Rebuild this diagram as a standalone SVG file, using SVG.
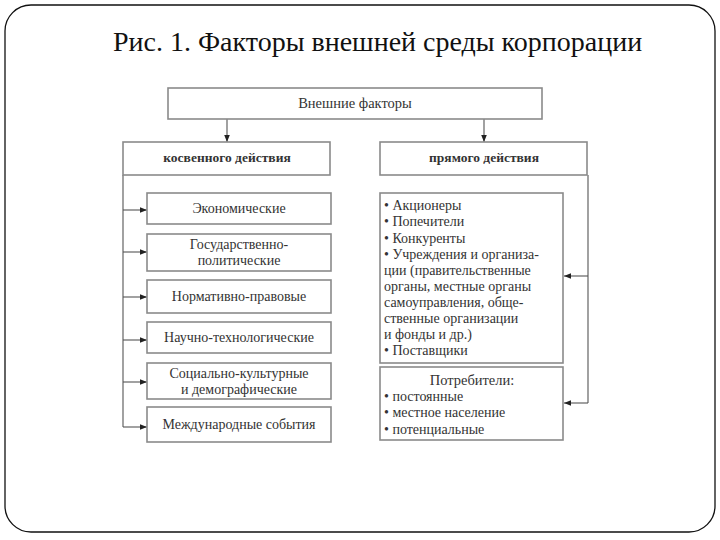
<svg xmlns="http://www.w3.org/2000/svg" width="720" height="540" viewBox="0 0 720 540">
<defs>
<marker id="ah" viewBox="0 0 10 10" refX="10" refY="5" markerWidth="7" markerHeight="7" orient="auto" markerUnits="userSpaceOnUse">
<path d="M0,1 L10,5 L0,9 Z" fill="#222"/>
</marker>
</defs>
<rect width="720" height="540" fill="#fff"/>
<rect x="5" y="5" width="710" height="527" rx="26" ry="26" fill="#fff" stroke="#111" stroke-width="1.3"/>
<text x="113" y="51" font-family="Liberation Serif" font-size="28" fill="#111">Рис. 1. Факторы внешней среды корпорации</text>

<g id="connectors" fill="none" stroke="#555" stroke-width="1.1">
<line x1="227" y1="119" x2="227" y2="142" marker-end="url(#ah)"/>
<line x1="484" y1="119" x2="484" y2="142" marker-end="url(#ah)"/>
<polyline points="123,175 123,427"/>
<line x1="123" y1="210" x2="147" y2="210" marker-end="url(#ah)"/>
<line x1="123" y1="252" x2="147" y2="252" marker-end="url(#ah)"/>
<line x1="123" y1="297" x2="147" y2="297" marker-end="url(#ah)"/>
<line x1="123" y1="340" x2="147" y2="340" marker-end="url(#ah)"/>
<line x1="123" y1="382" x2="147" y2="382" marker-end="url(#ah)"/>
<line x1="123" y1="427" x2="147" y2="427" marker-end="url(#ah)"/>
<polyline points="588,175 588,403"/>
<line x1="588" y1="276" x2="564" y2="276" marker-end="url(#ah)"/>
<line x1="588" y1="403" x2="564" y2="403" marker-end="url(#ah)"/>
</g>

<g id="nodes" font-family="Liberation Serif" font-size="14" fill="#333">
<g id="external">
<rect x="168" y="88" width="374" height="31" fill="#fff" stroke="#8a8a8a" stroke-width="1.6"/>
<text x="355" y="108" text-anchor="middle" font-size="14.5">Внешние факторы</text>
</g>
<g id="indirect">
<rect x="123" y="142" width="207" height="33" fill="#fff" stroke="#8a8a8a" stroke-width="1.6"/>
<text x="227" y="162" text-anchor="middle" font-weight="bold" font-size="13.5">косвенного действия</text>
</g>
<g id="direct">
<rect x="380" y="142" width="207" height="33" fill="#fff" stroke="#8a8a8a" stroke-width="1.6"/>
<text x="484" y="162" text-anchor="middle" font-weight="bold" font-size="13.5">прямого действия</text>
</g>

<g id="economic">
<rect x="147" y="193" width="184" height="31" fill="#fff" stroke="#8a8a8a" stroke-width="1.6"/>
<text x="239" y="213" text-anchor="middle">Экономические</text>
</g>
<g id="political">
<rect x="147" y="234" width="184" height="37" fill="#fff" stroke="#8a8a8a" stroke-width="1.6"/>
<text x="239" y="249" text-anchor="middle">Государственно-</text>
<text x="239" y="265" text-anchor="middle">политические</text>
</g>
<g id="legal">
<rect x="147" y="280" width="184" height="33" fill="#fff" stroke="#8a8a8a" stroke-width="1.6"/>
<text x="239" y="301" text-anchor="middle">Нормативно-правовые</text>
</g>
<g id="tech">
<rect x="147" y="322" width="184" height="31" fill="#fff" stroke="#8a8a8a" stroke-width="1.6"/>
<text x="239" y="342" text-anchor="middle">Научно-технологические</text>
</g>
<g id="social">
<rect x="147" y="363" width="184" height="36" fill="#fff" stroke="#8a8a8a" stroke-width="1.6"/>
<text x="239" y="378" text-anchor="middle">Социально-культурные</text>
<text x="239" y="394" text-anchor="middle">и демографические</text>
</g>
<g id="international">
<rect x="147" y="407" width="184" height="35" fill="#fff" stroke="#8a8a8a" stroke-width="1.6"/>
<text x="239" y="429" text-anchor="middle">Международные события</text>
</g>

<g id="stakeholders">
<rect x="380" y="193" width="183" height="170" fill="#fff" stroke="#8a8a8a" stroke-width="1.6"/>
<text x="384" y="210">•  Акционеры</text>
<text x="384" y="226">•  Попечители</text>
<text x="384" y="243">•  Конкуренты</text>
<text x="384" y="259">•  Учреждения и организа-</text>
<text x="384" y="275">ции (правительственные</text>
<text x="384" y="291">органы, местные органы</text>
<text x="384" y="307">самоуправления, обще-</text>
<text x="384" y="323">ственные организации</text>
<text x="384" y="339">и фонды и др.)</text>
<text x="384" y="355">•  Поставщики</text>
</g>
<g id="consumers">
<rect x="380" y="367" width="183" height="73" fill="#fff" stroke="#8a8a8a" stroke-width="1.6"/>
<text x="472" y="385" text-anchor="middle" font-size="14.5">Потребители:</text>
<text x="384" y="401">•  постоянные</text>
<text x="384" y="417">•  местное население</text>
<text x="384" y="434">•  потенциальные</text>
</g>
</g>
</svg>
